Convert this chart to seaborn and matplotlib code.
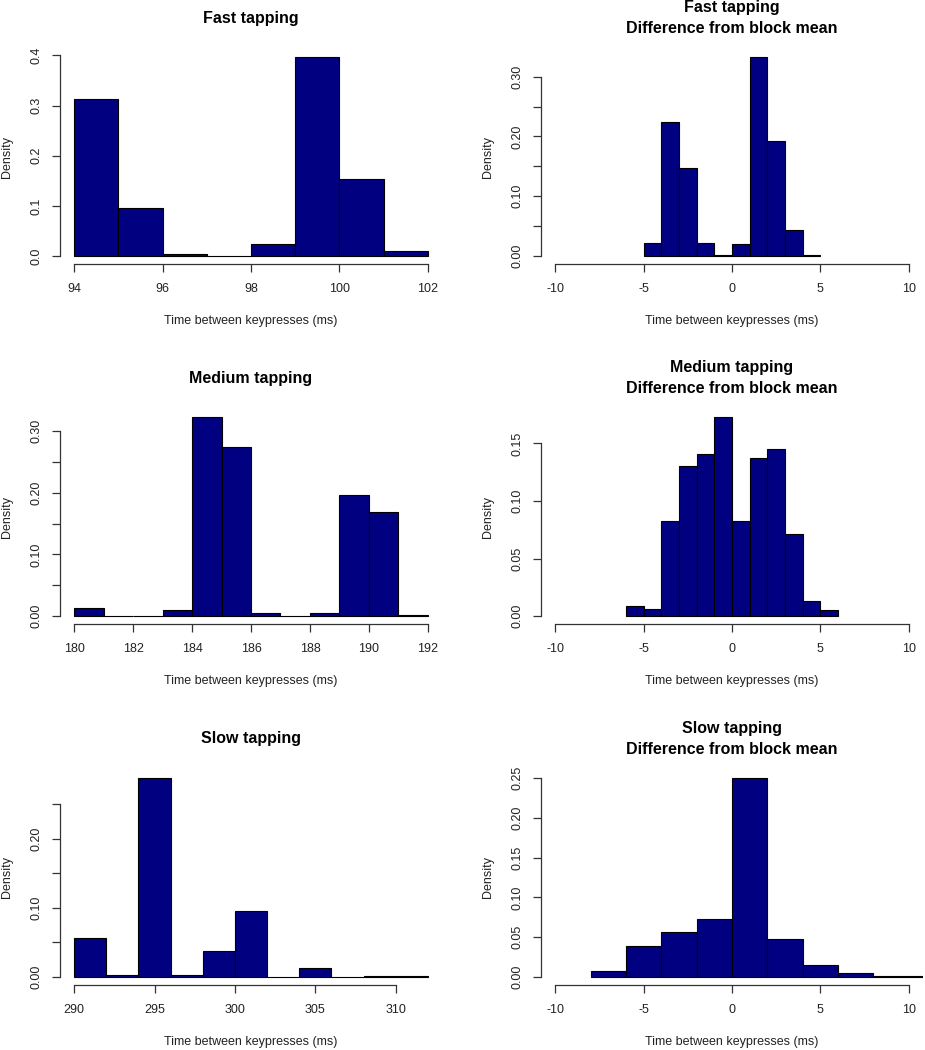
import matplotlib
matplotlib.use("Agg")
import matplotlib.pyplot as plt
import seaborn as sns

# ---------------- data (densities) ----------------
fast_edges = [94, 95, 96, 97, 98, 99, 100, 101, 102]
fast_density = [0.314, 0.095, 0.005, 0.0, 0.025, 0.397, 0.154, 0.011]

fast_diff_edges = [-5, -4, -3, -2, -1, 0, 1, 2, 3, 4, 5]
fast_diff_density = [0.021, 0.224, 0.148, 0.021, 0.001, 0.020, 0.333, 0.192, 0.043, 0.001]

medium_edges = [180, 181, 182, 183, 184, 185, 186, 187, 188, 189, 190, 191, 192]
medium_density = [0.013, 0.0, 0.0, 0.009, 0.323, 0.275, 0.0054, 0.0, 0.0054, 0.196, 0.169, 0.002]

medium_diff_edges = [-6, -5, -4, -3, -2, -1, 0, 1, 2, 3, 4, 5, 6]
medium_diff_density = [0.009, 0.0058, 0.083, 0.130, 0.141, 0.173, 0.083, 0.137, 0.145, 0.0715, 0.013, 0.0055]

slow_edges = [290, 292, 294, 296, 298, 300, 302, 304, 306, 308, 310, 312]
slow_density = [0.056, 0.003, 0.288, 0.003, 0.037, 0.096, 0.0, 0.0125, 0.0, 0.0015, 0.0015]

slow_diff_edges = [-8, -6, -4, -2, 0, 2, 4, 6, 8, 10, 12]
slow_diff_density = [0.007, 0.0395, 0.056, 0.073, 0.25, 0.048, 0.0147, 0.0046, 0.0017, 0.0017]

titles = ["Fast tapping", "Fast tapping\nDifference from block mean",
          "Medium tapping", "Medium tapping\nDifference from block mean",
          "Slow tapping", "Slow tapping\nDifference from block mean"]
x_label = "Time between keypresses (ms)"
y_label = "Density"

# ---------------- style ----------------
sns.set_theme(style="white")
plt.rcParams["font.family"] = ["Liberation Sans", "DejaVu Sans"]

W, H = 925, 1050
fig = plt.figure(figsize=(W / 100, H / 100), dpi=100)

panels = [
    dict(edges=fast_edges, dens=fast_density, xlim=(94, 102), xticks=[94, 96, 98, 100, 102],
         yticks=[0, 0.1, 0.2, 0.3, 0.4], ylab_every=1, fmt="{:.1f}"),
    dict(edges=fast_diff_edges, dens=fast_diff_density, xlim=(-10, 10), xticks=[-10, -5, 0, 5, 10],
         yticks=[0, 0.05, 0.10, 0.15, 0.20, 0.25, 0.30], ylab_every=2, fmt="{:.2f}"),
    dict(edges=medium_edges, dens=medium_density, xlim=(180, 192), xticks=[180, 182, 184, 186, 188, 190, 192],
         yticks=[0, 0.05, 0.10, 0.15, 0.20, 0.25, 0.30], ylab_every=2, fmt="{:.2f}"),
    dict(edges=medium_diff_edges, dens=medium_diff_density, xlim=(-10, 10), xticks=[-10, -5, 0, 5, 10],
         yticks=[0, 0.05, 0.10, 0.15], ylab_every=1, fmt="{:.2f}"),
    dict(edges=slow_edges, dens=slow_density, xlim=(290, 312), xticks=[290, 295, 300, 305, 310],
         yticks=[0, 0.05, 0.10, 0.15, 0.20, 0.25], ylab_every=2, fmt="{:.2f}"),
    dict(edges=slow_diff_edges, dens=slow_diff_density, xlim=(-10, 10), xticks=[-10, -5, 0, 5, 10],
         yticks=[0, 0.05, 0.10, 0.15, 0.20, 0.25], ylab_every=1, fmt="{:.2f}"),
]

col_left = [60, 541]
row_top = [49, 409, 770]
ax_w, ax_h = 382, 215

navy = "#000080"
tick_fs = 9
lab_fs = 9
title_fs = 11.5

for i, p in enumerate(panels):
    r, c = divmod(i, 2)
    left = col_left[c] / W
    bottom = 1 - (row_top[r] + ax_h) / H
    ax = fig.add_axes([left, bottom, ax_w / W, ax_h / H])

    edges = p["edges"]
    centers = [(edges[k] + edges[k + 1]) / 2 for k in range(len(edges) - 1)]
    sns.histplot(x=centers, weights=p["dens"], bins=edges, stat="count", ax=ax,
                 color=navy, edgecolor="black", linewidth=0.8, alpha=1.0)

    x0, x1 = p["xlim"]
    dx = 0.04 * (x1 - x0)
    ax.set_xlim(x0 - dx, x1 + dx)
    ymax = max(p["dens"])
    ax.set_ylim(-0.04 * ymax, ymax * 1.04)

    ax.set_xticks(p["xticks"])
    ax.set_xticklabels([str(t) for t in p["xticks"]])
    ax.set_yticks(p["yticks"])
    ax.set_yticklabels([p["fmt"].format(t) if k % p["ylab_every"] == 0 else ""
                        for k, t in enumerate(p["yticks"])])

    for s in ["top", "right"]:
        ax.spines[s].set_visible(False)
    for s in ["left", "bottom"]:
        ax.spines[s].set_visible(True)
        ax.spines[s].set_color("#333333")
        ax.spines[s].set_linewidth(0.9)
    ax.spines["left"].set_bounds(p["yticks"][0], p["yticks"][-1])
    ax.spines["bottom"].set_bounds(p["xticks"][0], p["xticks"][-1])

    ax.tick_params(axis="both", which="major", direction="out", length=5.5, width=0.9,
                   color="#333333", labelsize=tick_fs, labelcolor="#222222",
                   left=True, bottom=True)
    ax.tick_params(axis="x", pad=8)
    ax.tick_params(axis="y", pad=7, labelrotation=90)
    for lab in ax.get_yticklabels():
        lab.set_verticalalignment("center")

    ax.set_xlabel(x_label, fontsize=lab_fs, color="#222222")
    ax.set_ylabel(y_label, fontsize=lab_fs, color="#222222")
    ax.xaxis.set_label_coords(0.5, -57 / ax_h)
    ax.xaxis.label.set_verticalalignment("center")
    ax.yaxis.set_label_coords(-53 / ax_w, 0.5)
    ax.yaxis.label.set_verticalalignment("center")

    ax.annotate(titles[i], xy=(0.5, 1.0), xycoords="axes fraction",
                xytext=(0, 31 * 0.72), textcoords="offset points",
                ha="center", va="center", fontsize=title_fs, fontweight="bold",
                color="black", linespacing=1.45)
    ax.grid(False)

fig.savefig("out.png", dpi=100, facecolor="white")
